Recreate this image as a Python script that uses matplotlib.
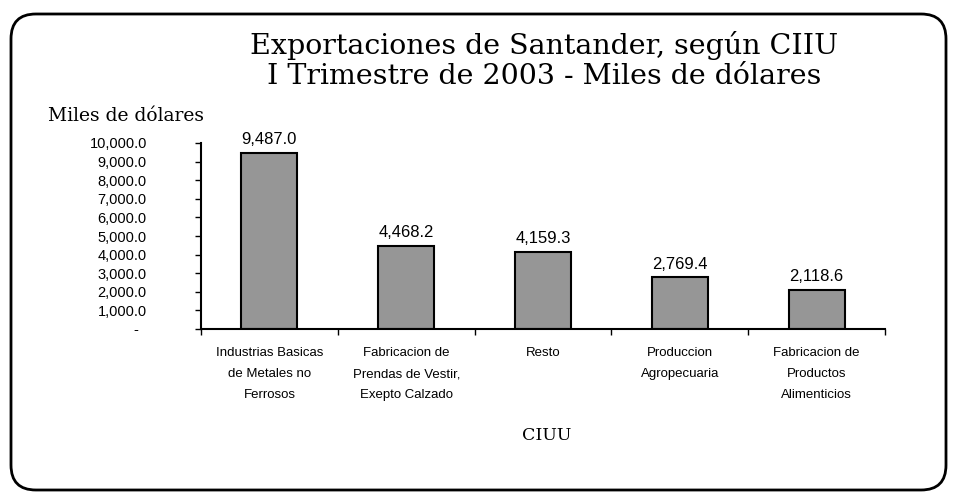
import matplotlib
matplotlib.use("Agg")
import matplotlib.pyplot as plt
from matplotlib.patches import FancyBboxPatch
from matplotlib.ticker import FuncFormatter

categorias = [
    "Industrias Basicas\nde Metales no\nFerrosos",
    "Fabricacion de\nPrendas de Vestir,\nExepto Calzado",
    "Resto",
    "Produccion\nAgropecuaria",
    "Fabricacion de\nProductos\nAlimenticios",
]
valores = [9487.0, 4468.2, 4159.3, 2769.4, 2118.6]
y_ticks = [0, 1000, 2000, 3000, 4000, 5000, 6000, 7000, 8000, 9000, 10000]

sans = "Liberation Sans"
serif = "DejaVu Serif"

fig = plt.figure(figsize=(9.57, 4.97), dpi=100)

# marco redondeado
marco = FancyBboxPatch((11 / 957, 1 - 490 / 497), 935 / 957, 476 / 497,
                       boxstyle="round,pad=0,rounding_size=0.026",
                       transform=fig.transFigure, fill=False,
                       edgecolor="black", linewidth=2, mutation_aspect=957 / 497)
fig.patches.append(marco)

ax = fig.add_axes([201 / 957, 1 - 329 / 497, 684 / 957, 186 / 497])

x = range(len(valores))
ax.bar(x, valores, width=0.41, color="#969696", edgecolor="black", linewidth=1.5)

for i, v in enumerate(valores):
    ax.text(i, v + 300, f"{v:,.1f}", ha="center", va="bottom",
            fontsize=12, family=sans)

ax.set_xlim(-0.5, len(valores) - 0.5)
ax.set_ylim(0, 10000)
ax.set_yticks(y_ticks)
ax.yaxis.set_major_formatter(FuncFormatter(
    lambda v, p: "-  " if v == 0 else f"{v:,.1f}"))
ax.tick_params(axis="y", direction="out", length=4, width=1, pad=35,
               labelsize=10.5)
for lab in ax.get_yticklabels():
    lab.set_family(sans)

# ticks del eje x en los limites de categoria
ax.set_xticks([i - 0.5 for i in range(len(valores) + 1)])
ax.set_xticklabels([])
ax.set_xticks(list(x), minor=True)
ax.set_xticklabels(categorias, minor=True, fontsize=9.5, family=sans,
                   linespacing=2.0, va="top")
ax.tick_params(axis="x", which="major", direction="out", length=4, width=1)
ax.tick_params(axis="x", which="minor", length=0, pad=13)

for s in ["top", "right"]:
    ax.spines[s].set_visible(False)
ax.spines["left"].set_linewidth(1.5)
ax.spines["bottom"].set_linewidth(1.5)

fig.text(544 / 957, 1 - 45 / 497, "Exportaciones de Santander, según CIIU",
         ha="center", va="center", fontsize=20.5, family=serif)
fig.text(544 / 957, 1 - 77 / 497, "I Trimestre de 2003 - Miles de dólares",
         ha="center", va="center", fontsize=20.5, family=serif)
fig.text(48 / 957, 1 - 116 / 497, "Miles de dólares", ha="left", va="center",
         fontsize=13.5, family=serif)
fig.text(547 / 957, 1 - 436 / 497, "CIUU", ha="center", va="center",
         fontsize=12.5, family=serif)

fig.savefig("out.png", dpi=100)
